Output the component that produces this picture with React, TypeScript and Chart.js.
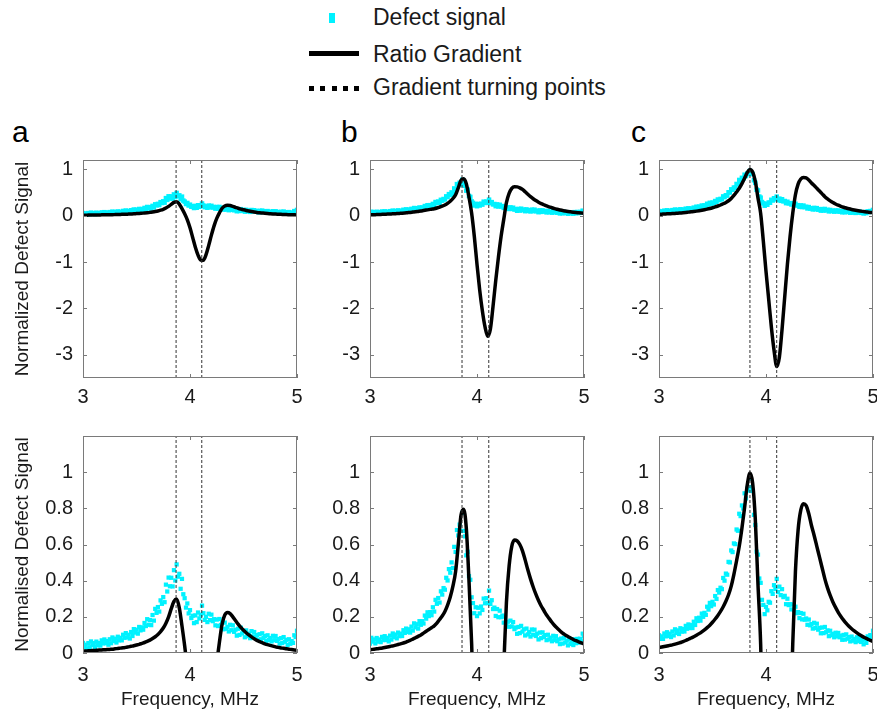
import React, { useEffect, useRef } from "react";
import { Chart, registerables } from "chart.js";

Chart.register(...registerables);

const FONT = "'Liberation Sans', Arial, Helvetica, sans-serif";
Chart.defaults.font.family = FONT;

// ---------- data ----------
const X_TICKS = [3, 4, 5];
const Y_TICKS_TOP = [-3, -2, -1, 0, 1];
const Y_TICKS_BOTTOM = [0, 0.2, 0.4, 0.6, 0.8, 1];
const PANEL_LETTERS = ["a", "b", "c"];

// gradient turning points (MHz)
const TURN_A = [3.87, 4.11];
const TURN_B = [3.86, 4.11];
const TURN_C = [3.85, 4.1];

// Ratio Gradient, sampled every 0.025 MHz from 3 to 5 MHz
const GRAD_A = [
  0.010, 0.011, 0.012, 0.013, 0.014, 0.015, 0.016, 0.017, 0.018, 0.019,
  0.020, 0.021, 0.023, 0.025, 0.027, 0.029, 0.031, 0.034, 0.037, 0.040,
  0.044, 0.048, 0.053, 0.058, 0.064, 0.071, 0.080, 0.090, 0.102, 0.118,
  0.138, 0.165, 0.200, 0.245, 0.285, 0.298, 0.250, 0.150, 0.040, -0.090,
  -0.260, -0.470, -0.680, -0.850, -0.955, -0.960, -0.840, -0.640, -0.420, -0.220,
  -0.060, 0.060, 0.160, 0.210, 0.224, 0.218, 0.200, 0.180, 0.160, 0.142,
  0.126, 0.112, 0.100, 0.089, 0.079, 0.070, 0.063, 0.057, 0.051, 0.046,
  0.042, 0.038, 0.034, 0.031, 0.028, 0.026, 0.023, 0.021, 0.019, 0.017,
  0.015,
];
const GRAD_B = [
  0.018, 0.020, 0.022, 0.024, 0.026, 0.029, 0.032, 0.035, 0.038, 0.041,
  0.045, 0.049, 0.053, 0.058, 0.064, 0.070, 0.077, 0.084, 0.092, 0.100,
  0.110, 0.120, 0.130, 0.140, 0.150, 0.165, 0.185, 0.205, 0.230, 0.265,
  0.310, 0.370, 0.450, 0.600, 0.760, 0.795, 0.690, 0.400, 0.050, -0.450,
  -1.050, -1.600, -2.050, -2.400, -2.600, -2.450, -1.950, -1.400, -0.900, -0.450,
  -0.080, 0.280, 0.480, 0.590, 0.625, 0.620, 0.600, 0.565, 0.515, 0.460,
  0.410, 0.365, 0.325, 0.290, 0.260, 0.235, 0.210, 0.190, 0.170, 0.152,
  0.137, 0.123, 0.110, 0.100, 0.091, 0.083, 0.075, 0.068, 0.062, 0.056,
  0.050,
];
const GRAD_C = [
  0.030, 0.033, 0.036, 0.039, 0.042, 0.045, 0.049, 0.053, 0.058, 0.063,
  0.069, 0.076, 0.083, 0.090, 0.098, 0.107, 0.117, 0.128, 0.140, 0.154,
  0.170, 0.188, 0.208, 0.230, 0.256, 0.286, 0.322, 0.370, 0.435, 0.510,
  0.590, 0.690, 0.805, 0.930, 0.995, 0.940, 0.740, 0.380, 0.050, -0.550,
  -1.200, -1.800, -2.400, -2.900, -3.250, -3.050, -2.450, -1.750, -1.050, -0.450,
  0.050, 0.450, 0.680, 0.790, 0.825, 0.815, 0.770, 0.705, 0.650, 0.590,
  0.530, 0.470, 0.410, 0.360, 0.318, 0.282, 0.252, 0.225, 0.202, 0.182,
  0.164, 0.148, 0.134, 0.122, 0.111, 0.101, 0.092, 0.084, 0.077, 0.070,
  0.064,
];

// Defect signal (measured points), sampled every 0.0125 MHz from 3 to 5 MHz
const SIGNAL_A = [
  0.056, 0.034, 0.046, 0.025, 0.055, 0.032, 0.064, 0.043, 0.055, 0.033,
  0.063, 0.043, 0.055, 0.041, 0.070, 0.053, 0.075, 0.054, 0.066, 0.046,
  0.076, 0.054, 0.086, 0.066, 0.079, 0.058, 0.090, 0.070, 0.084, 0.070,
  0.101, 0.084, 0.110, 0.086, 0.101, 0.080, 0.116, 0.094, 0.132, 0.113,
  0.129, 0.107, 0.144, 0.125, 0.142, 0.129, 0.166, 0.149, 0.187, 0.156,
  0.182, 0.154, 0.210, 0.179, 0.244, 0.222, 0.254, 0.229, 0.291, 0.272,
  0.309, 0.281, 0.378, 0.340, 0.417, 0.369, 0.416, 0.368, 0.458, 0.401,
  0.490, 0.422, 0.438, 0.355, 0.410, 0.325, 0.303, 0.251, 0.274, 0.219,
  0.237, 0.193, 0.206, 0.165, 0.208, 0.171, 0.224, 0.191, 0.212, 0.262,
  0.220, 0.183, 0.200, 0.171, 0.217, 0.182, 0.212, 0.176, 0.187, 0.153,
  0.185, 0.149, 0.188, 0.155, 0.167, 0.131, 0.168, 0.134, 0.145, 0.119,
  0.156, 0.126, 0.153, 0.117, 0.129, 0.096, 0.134, 0.100, 0.140, 0.108,
  0.121, 0.087, 0.125, 0.093, 0.107, 0.082, 0.121, 0.092, 0.116, 0.088,
  0.099, 0.073, 0.104, 0.076, 0.109, 0.083, 0.094, 0.067, 0.098, 0.072,
  0.083, 0.064, 0.095, 0.071, 0.094, 0.067, 0.077, 0.052, 0.082, 0.055,
  0.088, 0.062, 0.073, 0.045, 0.076, 0.051, 0.066, 0.056, 0.098, 0.088,
  0.123,
];
const SIGNAL_B = [
  0.052, 0.084, 0.063, 0.075, 0.053, 0.083, 0.063, 0.075, 0.060, 0.089,
  0.071, 0.093, 0.072, 0.084, 0.064, 0.096, 0.074, 0.108, 0.088, 0.102,
  0.081, 0.113, 0.093, 0.107, 0.094, 0.126, 0.111, 0.135, 0.116, 0.131,
  0.113, 0.146, 0.124, 0.164, 0.142, 0.159, 0.135, 0.176, 0.156, 0.176,
  0.163, 0.207, 0.190, 0.225, 0.204, 0.226, 0.209, 0.253, 0.229, 0.294,
  0.272, 0.304, 0.279, 0.341, 0.323, 0.359, 0.350, 0.416, 0.401, 0.464,
  0.444, 0.501, 0.470, 0.587, 0.559, 0.680, 0.650, 0.710, 0.675, 0.775,
  0.675, 0.645, 0.540, 0.560, 0.425, 0.405, 0.308, 0.276, 0.220, 0.253,
  0.204, 0.250, 0.219, 0.257, 0.238, 0.301, 0.275, 0.303, 0.276, 0.345,
  0.271, 0.292, 0.243, 0.251, 0.205, 0.243, 0.198, 0.234, 0.198, 0.207,
  0.168, 0.201, 0.164, 0.173, 0.145, 0.179, 0.147, 0.171, 0.132, 0.141,
  0.106, 0.144, 0.110, 0.150, 0.118, 0.131, 0.097, 0.135, 0.103, 0.116,
  0.091, 0.130, 0.101, 0.129, 0.094, 0.107, 0.075, 0.113, 0.082, 0.114,
  0.089, 0.099, 0.071, 0.101, 0.075, 0.085, 0.065, 0.095, 0.071, 0.093,
  0.065, 0.075, 0.049, 0.080, 0.052, 0.084, 0.058, 0.068, 0.042, 0.074,
  0.050, 0.062, 0.044, 0.076, 0.054, 0.078, 0.057, 0.079, 0.065, 0.107,
  0.091,
];
const SIGNAL_C = [
  0.098, 0.078, 0.092, 0.078, 0.108, 0.092, 0.115, 0.094, 0.107, 0.088,
  0.119, 0.097, 0.131, 0.111, 0.125, 0.105, 0.137, 0.118, 0.132, 0.119,
  0.150, 0.134, 0.158, 0.138, 0.154, 0.138, 0.173, 0.155, 0.192, 0.177,
  0.195, 0.179, 0.218, 0.200, 0.222, 0.211, 0.256, 0.240, 0.277, 0.259,
  0.283, 0.268, 0.315, 0.299, 0.348, 0.334, 0.361, 0.353, 0.415, 0.400,
  0.439, 0.433, 0.504, 0.501, 0.567, 0.558, 0.606, 0.602, 0.683, 0.676,
  0.770, 0.757, 0.816, 0.799, 0.883, 0.855, 0.909, 0.898, 0.965, 0.918,
  0.896, 0.764, 0.708, 0.560, 0.544, 0.412, 0.388, 0.294, 0.266, 0.215,
  0.255, 0.236, 0.283, 0.278, 0.342, 0.327, 0.375, 0.354, 0.410, 0.337,
  0.367, 0.320, 0.353, 0.309, 0.316, 0.270, 0.300, 0.265, 0.270, 0.241,
  0.268, 0.236, 0.256, 0.220, 0.226, 0.193, 0.221, 0.186, 0.217, 0.184,
  0.191, 0.156, 0.185, 0.153, 0.160, 0.135, 0.167, 0.138, 0.162, 0.129,
  0.139, 0.109, 0.141, 0.110, 0.144, 0.115, 0.125, 0.093, 0.123, 0.098,
  0.106, 0.087, 0.112, 0.092, 0.111, 0.087, 0.096, 0.073, 0.100, 0.074,
  0.103, 0.079, 0.088, 0.064, 0.091, 0.068, 0.078, 0.060, 0.087, 0.066,
  0.086, 0.061, 0.070, 0.048, 0.078, 0.056, 0.092, 0.078, 0.099, 0.086,
  0.123,
];

const GRAD_FREQ = GRAD_A.map((_, i) => +(3 + i * 0.025).toFixed(4));
const SIGNAL_FREQ = SIGNAL_A.map((_, i) => +(3 + i * 0.0125).toFixed(4));

const GRADS = [GRAD_A, GRAD_B, GRAD_C];
const SIGNALS = [SIGNAL_A, SIGNAL_B, SIGNAL_C];
const TURNS = [TURN_A, TURN_B, TURN_C];

// ---------- layout ----------
const PLOT_W = 214;
const COLS = [
  { plotLeft: 83, axisW: 83, padR: 8 },
  { plotLeft: 370, axisW: 62, padR: 8 },
  { plotLeft: 659, axisW: 62, padR: 6 },
];
const ROWS = [
  { plotTop: 160, plotBottom: 378, padT: 13, axisH: 27, yMin: -3.5, yMax: 1.2 },
  { plotTop: 436, plotBottom: 653, padT: 13, axisH: 63, yMin: 0, yMax: 1.2 },
];

const CYAN = "#00f2ff";
const TEXT = "#1a1a1a";
const FRAME = "#7a7a7a";

const framePlugin = {
  id: "frameTicks",
  afterDatasetsDraw(chart: any) {
    const { ctx, chartArea, scales } = chart;
    const { left, right, top, bottom } = chartArea;
    ctx.save();
    ctx.strokeStyle = FRAME;
    ctx.lineWidth = 1;
    ctx.strokeRect(left + 0.5, top + 0.5, right - left - 1, bottom - top - 1);
    const tl = 4;
    ctx.beginPath();
    scales.x.ticks.forEach((t: any) => {
      const px = Math.round(scales.x.getPixelForValue(t.value)) + 0.5;
      ctx.moveTo(px, bottom);
      ctx.lineTo(px, bottom - tl);
      ctx.moveTo(px, top);
      ctx.lineTo(px, top + tl);
    });
    scales.y.ticks.forEach((t: any) => {
      const py = Math.round(scales.y.getPixelForValue(t.value)) + 0.5;
      ctx.moveTo(left, py);
      ctx.lineTo(left + tl, py);
      ctx.moveTo(right, py);
      ctx.lineTo(right - tl, py);
    });
    ctx.stroke();
    ctx.restore();
  },
};

function fmt(v: any) {
  return String(+Number(v).toFixed(2));
}

function makeConfig(col: number, row: number): any {
  const c = COLS[col];
  const r = ROWS[row];
  const turns = TURNS[col];
  const grad = GRADS[col];
  const sig = SIGNALS[col];
  const yTicks = row === 0 ? Y_TICKS_TOP : Y_TICKS_BOTTOM;

  const datasets: any[] = [
    ...turns.map((t) => ({
      label: "Gradient turning points",
      data: [
        { x: t, y: r.yMin },
        { x: t, y: r.yMax },
      ],
      borderColor: "#333",
      borderWidth: 1,
      borderDash: [3, 2],
      pointRadius: 0,
      order: 0,
      clip: 0,
    })),
    {
      label: "Ratio Gradient",
      data: GRAD_FREQ.map((x, i) => ({ x, y: grad[i] })),
      borderColor: "#000",
      borderWidth: 3.5,
      pointRadius: 0,
      cubicInterpolationMode: "monotone",
      order: 1,
      clip: 0,
    },
    {
      label: "Defect signal",
      data: SIGNAL_FREQ.map((x, i) => ({ x, y: sig[i] })),
      showLine: false,
      backgroundColor: CYAN,
      borderColor: CYAN,
      borderWidth: 0,
      pointStyle: "rect",
      pointRadius: row === 0 ? 3.2 : 3.0,
      order: 2,
      clip: 0,
    },
  ];

  return {
    type: "line",
    data: { datasets },
    options: {
      animation: false,
      responsive: false,
      devicePixelRatio: 1,
      events: [],
      layout: { padding: { left: 0, top: r.padT, right: c.padR, bottom: 0 } },
      plugins: { legend: { display: false }, tooltip: { enabled: false } },
      scales: {
        x: {
          type: "linear",
          min: 3,
          max: 5,
          afterBuildTicks: (s: any) => {
            s.ticks = X_TICKS.map((v) => ({ value: v }));
          },
          afterFit: (s: any) => {
            s.height = r.axisH;
            s.paddingLeft = 0;
            s.paddingRight = 0;
          },
          grid: { display: false, drawTicks: false },
          border: { display: false },
          ticks: {
            padding: row === 0 ? 7 : 10,
            color: TEXT,
            font: { size: 20, family: FONT },
            maxRotation: 0,
            autoSkip: false,
            callback: fmt,
          },
          title: {
            display: row === 1,
            text: "Frequency, MHz",
            color: TEXT,
            font: { size: 19, family: FONT, lineHeight: 1.2 },
            padding: { top: 0, bottom: 5 },
          },
        },
        y: {
          type: "linear",
          min: r.yMin,
          max: r.yMax,
          afterBuildTicks: (s: any) => {
            s.ticks = yTicks.map((v) => ({ value: v }));
          },
          afterFit: (s: any) => {
            s.width = c.axisW;
            s.paddingTop = 0;
            s.paddingBottom = 0;
          },
          grid: { display: false, drawTicks: false },
          border: { display: false },
          ticks: {
            padding: 10,
            color: TEXT,
            font: { size: 20, family: FONT },
            autoSkip: false,
            callback: fmt,
          },
          title: {
            display: col === 0,
            text: row === 0 ? "Normalized Defect Signal" : "Normalised Defect Signal",
            color: TEXT,
            font: { size: 19, family: FONT, lineHeight: 1.2 },
            padding: { top: 11, bottom: 0 },
          },
        },
      },
    },
    plugins: [framePlugin],
  };
}

function Panel({ col, row }: { col: number; row: number }) {
  const ref = useRef<HTMLCanvasElement | null>(null);
  const c = COLS[col];
  const r = ROWS[row];
  const left = c.plotLeft - c.axisW;
  const width = c.axisW + PLOT_W + c.padR;
  const top = r.plotTop - r.padT;
  const height = r.padT + (r.plotBottom - r.plotTop) + r.axisH;

  useEffect(() => {
    if (!ref.current) return;
    const chart = new Chart(ref.current, makeConfig(col, row));
    return () => chart.destroy();
  }, [col, row]);

  return (
    <canvas
      ref={ref}
      width={width}
      height={height}
      style={{ position: "absolute", left, top, width, height }}
    />
  );
}

const LETTER_POS = [12, 341, 631];

export default function App() {
  const legendText: React.CSSProperties = {
    position: "absolute",
    left: 373,
    fontSize: 23,
    lineHeight: "23px",
    color: TEXT,
    whiteSpace: "nowrap",
  };
  return (
    <div
      style={{
        position: "fixed",
        left: 0,
        top: 0,
        width: 877,
        height: 716,
        background: "#fff",
        overflow: "hidden",
        fontFamily: FONT,
      }}
    >
      {/* legend */}
      <div style={{ position: "absolute", left: 329, top: 13, width: 6, height: 10, background: CYAN }} />
      <div style={{ ...legendText, top: 5.5 }}>Defect signal</div>
      <div style={{ position: "absolute", left: 309, top: 51, width: 50, height: 5, background: "#000" }} />
      <div style={{ ...legendText, top: 42.5 }}>Ratio Gradient</div>
      <div
        style={{
          position: "absolute",
          left: 309,
          top: 86,
          width: 51,
          height: 5,
          background: "repeating-linear-gradient(to right, #000 0px, #000 5px, transparent 5px, transparent 11.3px)",
        }}
      />
      <div style={{ ...legendText, top: 75.5 }}>Gradient turning points</div>

      {PANEL_LETTERS.map((l, i) => (
        <div
          key={l}
          style={{
            position: "absolute",
            left: LETTER_POS[i],
            top: 116.5,
            fontSize: 30,
            lineHeight: "30px",
            color: "#000",
          }}
        >
          {l}
        </div>
      ))}

      {[0, 1].map((row) =>
        [0, 1, 2].map((col) => <Panel key={`${row}-${col}`} col={col} row={row} />)
      )}
    </div>
  );
}
